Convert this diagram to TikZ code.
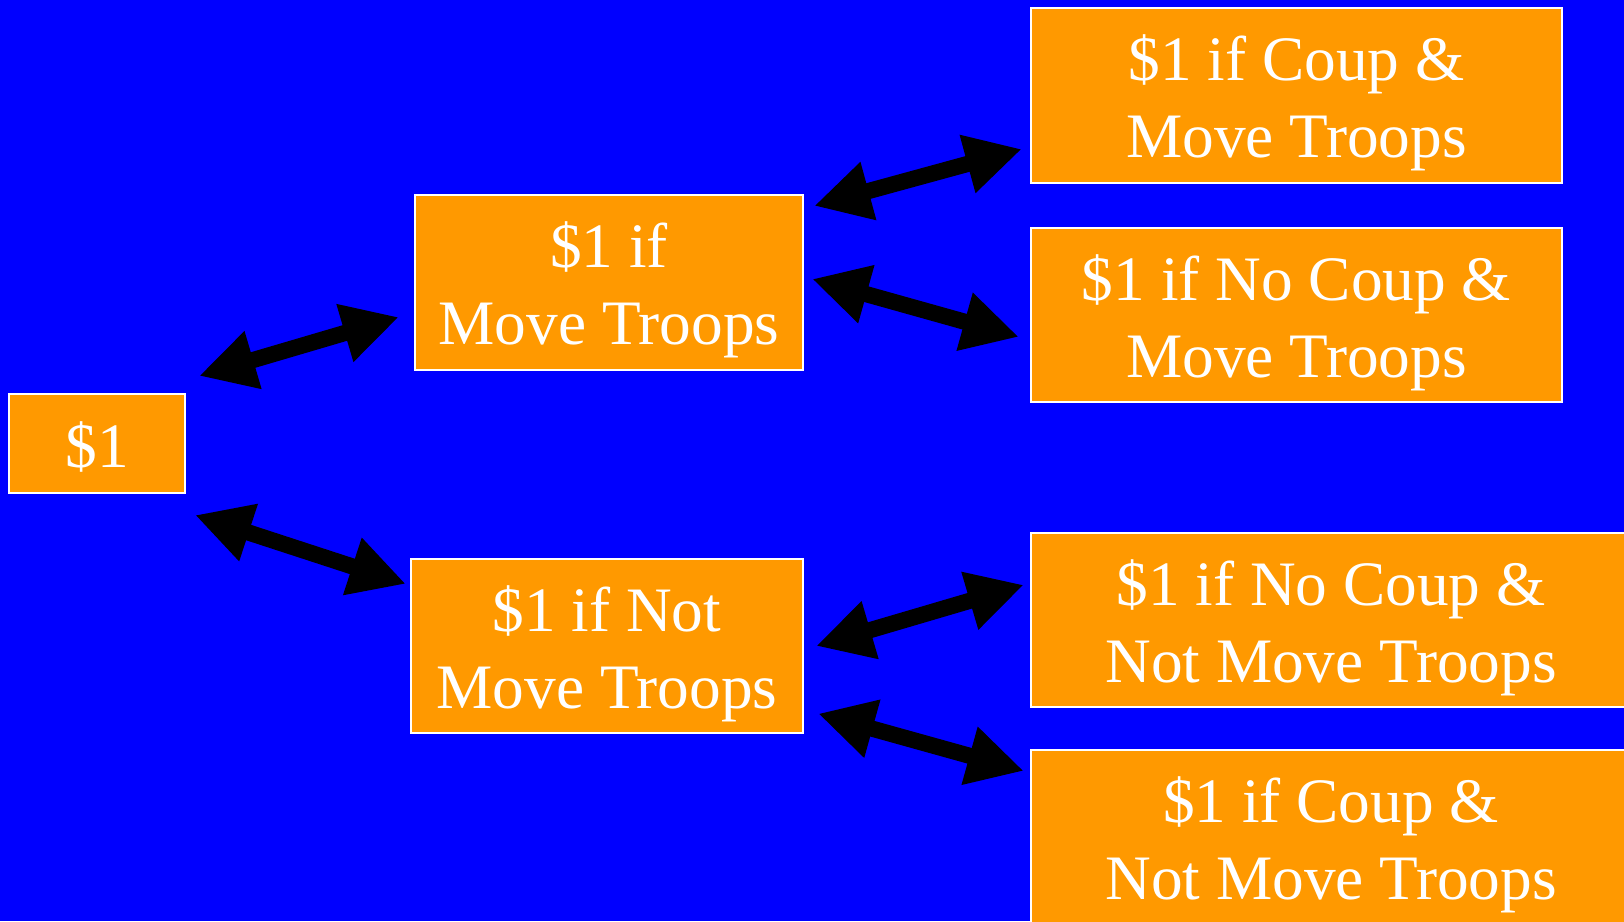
\documentclass[tikz,border=0pt]{standalone}
\usepackage{fontspec}
\setmainfont{Liberation Serif}
\usetikzlibrary{arrows.meta,calc}
\definecolor{fondo}{HTML}{0000FF}
\definecolor{naranja}{HTML}{FF9900}
\newcommand{\alto}{\rule{0pt}{18.6pt}}
\newcommand{\bajo}{\rule[-5pt]{0pt}{5pt}}

\begin{document}
\begin{tikzpicture}[x=0.01cm,y=-0.01cm,
    caja/.style={draw=white,line width=0.6pt,fill=naranja,text=white,align=center,
      inner sep=0pt,font=\fontsize{18pt}{21.9pt}\selectfont},
    flecha/.style={line width=4.6pt,
      {Triangle[length=16pt,width=16pt]}-{Triangle[length=16pt,width=16pt]}}]
  % Fondo
  \useasboundingbox (0,0) rectangle (1624,921);
  \clip (0,0) rectangle (1624,921);
  \fill[fondo] (0,0) rectangle (1624,921);

  % Cajas
  \node[caja,minimum width=1.76cm,minimum height=0.99cm] (uno) at (97,443.5) {\alto\$1\bajo};
  \node[caja,minimum width=3.88cm,minimum height=1.75cm] (mover) at (609,282.5) {\alto\$1 if\\Move Troops\bajo};
  \node[caja,minimum width=3.92cm,minimum height=1.74cm] (nomover) at (607,646) {\alto\$1 if Not\\Move Troops\bajo};
  \node[caja,minimum width=5.31cm,minimum height=1.75cm] (golpemover) at (1296.5,95.5) {\alto\$1 if Coup \&\\Move Troops\bajo};
  \node[caja,minimum width=5.31cm,minimum height=1.74cm] (sinmover) at (1296.5,315) {\alto\$1 if No Coup \&\\Move Troops\bajo};
  \node[caja,minimum width=6.00cm,minimum height=1.74cm] (sinnomover) at (1331,620) {\alto\$1 if No Coup \&\\Not Move Troops\bajo};
  \node[caja,minimum width=6.00cm,minimum height=1.74cm] (golpenomover) at (1331,837) {\alto\$1 if Coup \&\\Not Move Troops\bajo};

  % Flechas
  \draw[flecha] ($(uno.north east)+(13,-17)$) -- ($(mover.south west)+(-15,-54)$);
  \draw[flecha] ($(uno.south east)+(9,21)$) -- ($(nomover.north west)+(-4,26)$);
  \draw[flecha] ($(mover.north east)+(10,12)$) -- ($(golpemover.south west)+(-8,-35)$);
  \draw[flecha] ($(mover.east)+(8,-3.5)$) -- ($(sinmover.north west)+(-11,110)$);
  \draw[flecha] ($(nomover.east)+(12,0)$) -- ($(sinnomover.north west)+(-6,53)$);
  \draw[flecha] ($(nomover.south east)+(14,-20.5)$) -- ($(golpenomover.north west)+(-6,22)$);
\end{tikzpicture}
\end{document}
